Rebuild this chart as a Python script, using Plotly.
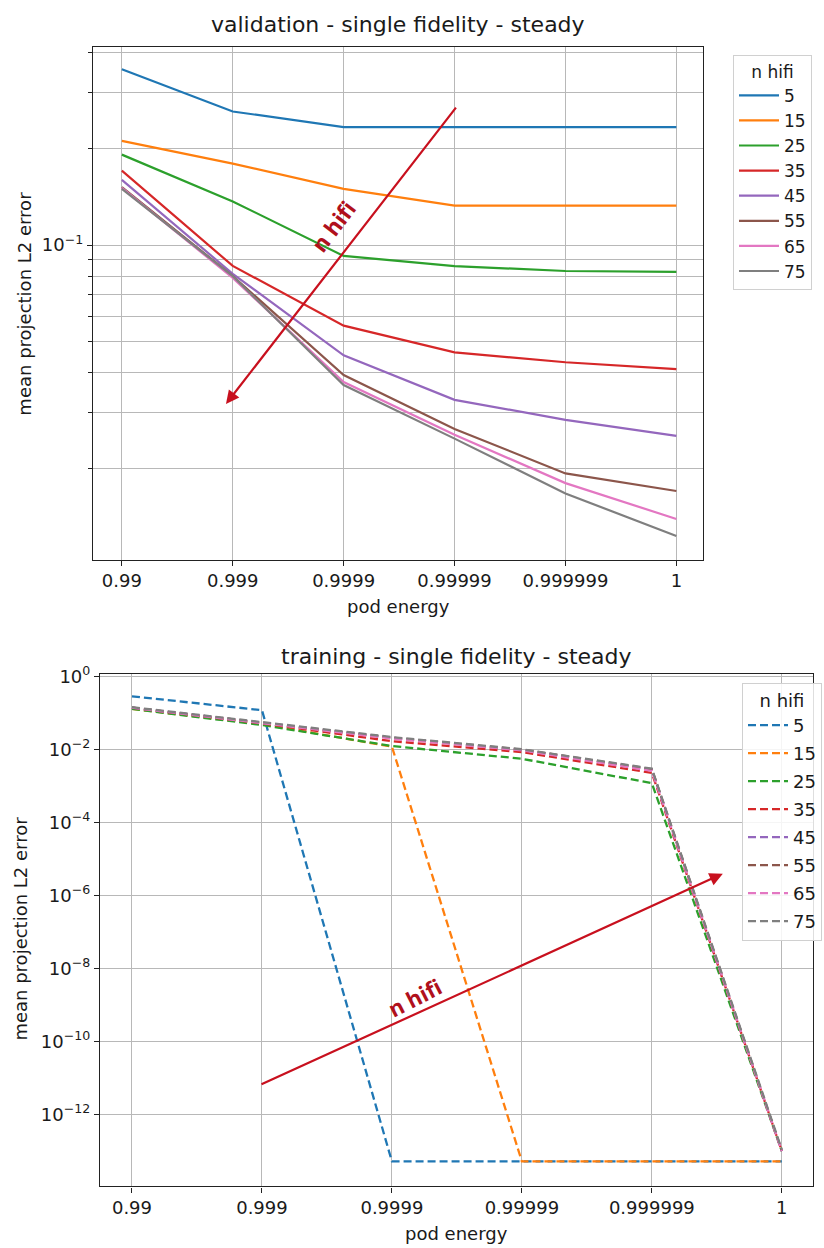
import plotly.graph_objects as go

# POD energy levels (categorical x axis)
pod_energy = ["0.99", "0.999", "0.9999", "0.99999", "0.999999", "1"]
n_hifi = ["5", "15", "25", "35", "45", "55", "65", "75"]
colors = ["#1f77b4", "#ff7f0e", "#2ca02c", "#d62728",
          "#9467bd", "#8c564b", "#e377c2", "#7f7f7f"]

# validation error per n_hifi
val_5 = [0.355, 0.262, 0.234, 0.234, 0.234, 0.234]
val_15 = [0.212, 0.180, 0.150, 0.133, 0.133, 0.133]
val_25 = [0.192, 0.137, 0.0925, 0.086, 0.083, 0.0825]
val_35 = [0.171, 0.0861, 0.056, 0.0462, 0.043, 0.0409]
val_45 = [0.160, 0.0813, 0.0452, 0.0328, 0.0284, 0.0253]
val_55 = [0.152, 0.080, 0.0392, 0.0266, 0.0193, 0.0170]
val_65 = [0.151, 0.079, 0.0373, 0.0255, 0.0180, 0.0139]
val_75 = [0.150, 0.080, 0.0365, 0.0248, 0.0167, 0.0123]

# training error per n_hifi
trn_5 = [0.288, 0.12, 5.2e-14, 5.2e-14, 5.2e-14, 5.2e-14]
trn_15 = [0.13, 0.05, 0.012, 5.2e-14, 5.2e-14, 5.2e-14]
trn_25 = [0.13, 0.047, 0.0125, 0.0056, 0.0012, 1.0e-13]
trn_35 = [0.14, 0.052, 0.017, 0.0085, 0.0023, 1.0e-13]
trn_45 = [0.14, 0.054, 0.021, 0.0098, 0.0028, 1.0e-13]
trn_55 = [0.14, 0.055, 0.021, 0.0100, 0.0029, 1.0e-13]
trn_65 = [0.14, 0.054, 0.020, 0.0095, 0.0026, 1.0e-13]
trn_75 = [0.145, 0.056, 0.022, 0.0102, 0.0030, 1.1e-13]

val_series = [val_5, val_15, val_25, val_35, val_45, val_55, val_65, val_75]
trn_series = [trn_5, trn_15, trn_25, trn_35, trn_45, trn_55, trn_65, trn_75]

# y ticks
val_major = [0.1]
val_major_text = ["10<sup>\u22121</sup>"]
val_minor = [0.02, 0.03, 0.04, 0.05, 0.06, 0.07, 0.08, 0.09, 0.2, 0.3, 0.4]
trn_exponents = [0, -2, -4, -6, -8, -10, -12]

FONT = "DejaVu Sans"
TXT = "#1a1a1a"
GRID = "#b8b8b8"
ARROW = "#c8101e"
W, H = 824, 1248

fig = go.Figure()

for name, ys, c in zip(n_hifi, val_series, colors):
    fig.add_trace(go.Scatter(
        x=pod_energy, y=ys, mode="lines", name=name,
        line=dict(color=c, width=2.2),
        xaxis="x", yaxis="y", legend="legend", legendgroup="v" + name,
    ))

for name, ys, c in zip(n_hifi, trn_series, colors):
    fig.add_trace(go.Scatter(
        x=pod_energy, y=ys, mode="lines", name=name,
        line=dict(color=c, width=2.3, dash="8px,4px"),
        xaxis="x2", yaxis="y2", legend="legend2", legendgroup="t" + name,
    ))

axis_common = dict(
    showline=True, mirror=True, linecolor="#222", linewidth=1.2,
    ticks="outside", ticklen=5, tickcolor="#222",
    showgrid=True, gridcolor=GRID, gridwidth=1,
    zeroline=False,
    tickfont=dict(family=FONT, size=18, color=TXT),
)

fig.update_layout(
    width=W, height=H,
    margin=dict(l=0, r=0, t=0, b=0),
    paper_bgcolor="white", plot_bgcolor="white",
    font=dict(family=FONT, color=TXT),
    xaxis=dict(type="category", domain=[93 / W, 703 / W], anchor="y",
               range=[-0.26, 5.24], **axis_common),
    yaxis=dict(type="log", domain=[1 - 554 / H, 1 - 37 / H], anchor="x",
               range=[-1.984, -0.379], tickmode="array",
               tickvals=val_major, ticktext=val_major_text,
               minor=dict(tickmode="array", tickvals=val_minor, ticks="outside",
                          ticklen=4, tickcolor="#222", showgrid=True,
                          gridcolor=GRID, gridwidth=1),
               **axis_common),
    xaxis2=dict(type="category", domain=[100 / W, 813 / W], anchor="y2",
                range=[-0.246, 5.24], **axis_common),
    yaxis2=dict(type="log", domain=[1 - 1186 / H, 1 - 669 / H], anchor="x2",
                range=[-13.97, 0.08], tickmode="array",
                tickvals=[10.0 ** e for e in trn_exponents],
                ticktext=["10<sup>%s</sup>" % (str(e).replace("-", "\u2212"))
                          for e in trn_exponents],
                **axis_common),
    legend=dict(
        x=733 / W, y=1 - 45 / H, xanchor="left", yanchor="top",
        title=dict(text="n hifi", side="top center",
                   font=dict(family=FONT, size=17, color=TXT)),
        font=dict(family=FONT, size=17, color=TXT),
        bgcolor="white", bordercolor="#d0d0d0", borderwidth=1,
        tracegroupgap=0, itemwidth=40,
    ),
    legend2=dict(
        x=742 / W, y=1 - 678 / H, xanchor="left", yanchor="top",
        title=dict(text="n hifi", side="top center",
                   font=dict(family=FONT, size=18, color=TXT)),
        font=dict(family=FONT, size=18, color=TXT),
        bgcolor="rgba(255,255,255,0.85)", bordercolor="#d0d0d0", borderwidth=1,
        tracegroupgap=1.6, itemwidth=40,
    ),
    showlegend=True,
)


def paper_text(text, px, py, size, angle=0):
    return dict(text=text, x=px / W, y=1 - py / H, xref="paper", yref="paper",
                xanchor="center", yanchor="middle", showarrow=False,
                textangle=angle, font=dict(family=FONT, size=size, color=TXT))


annotations = [
    # panel titles
    paper_text("validation - single fidelity - steady", 398, 15, 22),
    paper_text("training - single fidelity - steady", 456, 652, 22),
    # axis titles
    paper_text("pod energy", 398, 601, 18),
    paper_text("pod energy", 456, 1233, 18),
    paper_text("mean projection L2 error", 25, 296, 18, -90),
    paper_text("mean projection L2 error", 21, 926, 18, -90),
    # trend arrows
    dict(x=0.939, y=-1.497, ax=3.023, ay=-0.565, xref="x", yref="y",
         axref="x", ayref="y", showarrow=True, arrowhead=2, arrowsize=1.2,
         arrowwidth=2.2, arrowcolor=ARROW, standoff=0, startstandoff=0, text=""),
    dict(x=4.546, y=-5.40, ax=0.985, ay=-11.19, xref="x2", yref="y2",
         axref="x2", ayref="y2", showarrow=True, arrowhead=2, arrowsize=1.2,
         arrowwidth=2.2, arrowcolor=ARROW, standoff=0, startstandoff=0, text=""),
    dict(text="<b>n hifi</b>", x=1.904, y=-0.941, xref="x", yref="y",
         xanchor="center", yanchor="middle",
         showarrow=False, textangle=-53,
         font=dict(family="Open Sans", size=22, color="#b0101c")),
    dict(text="<b>n hifi</b>", x=2.177, y=-8.77, xref="x2", yref="y2",
         xanchor="center", yanchor="middle",
         showarrow=False, textangle=-27,
         font=dict(family="Open Sans", size=22, color="#b0101c")),
]
fig.update_layout(annotations=annotations)

fig.write_html("out.html")
